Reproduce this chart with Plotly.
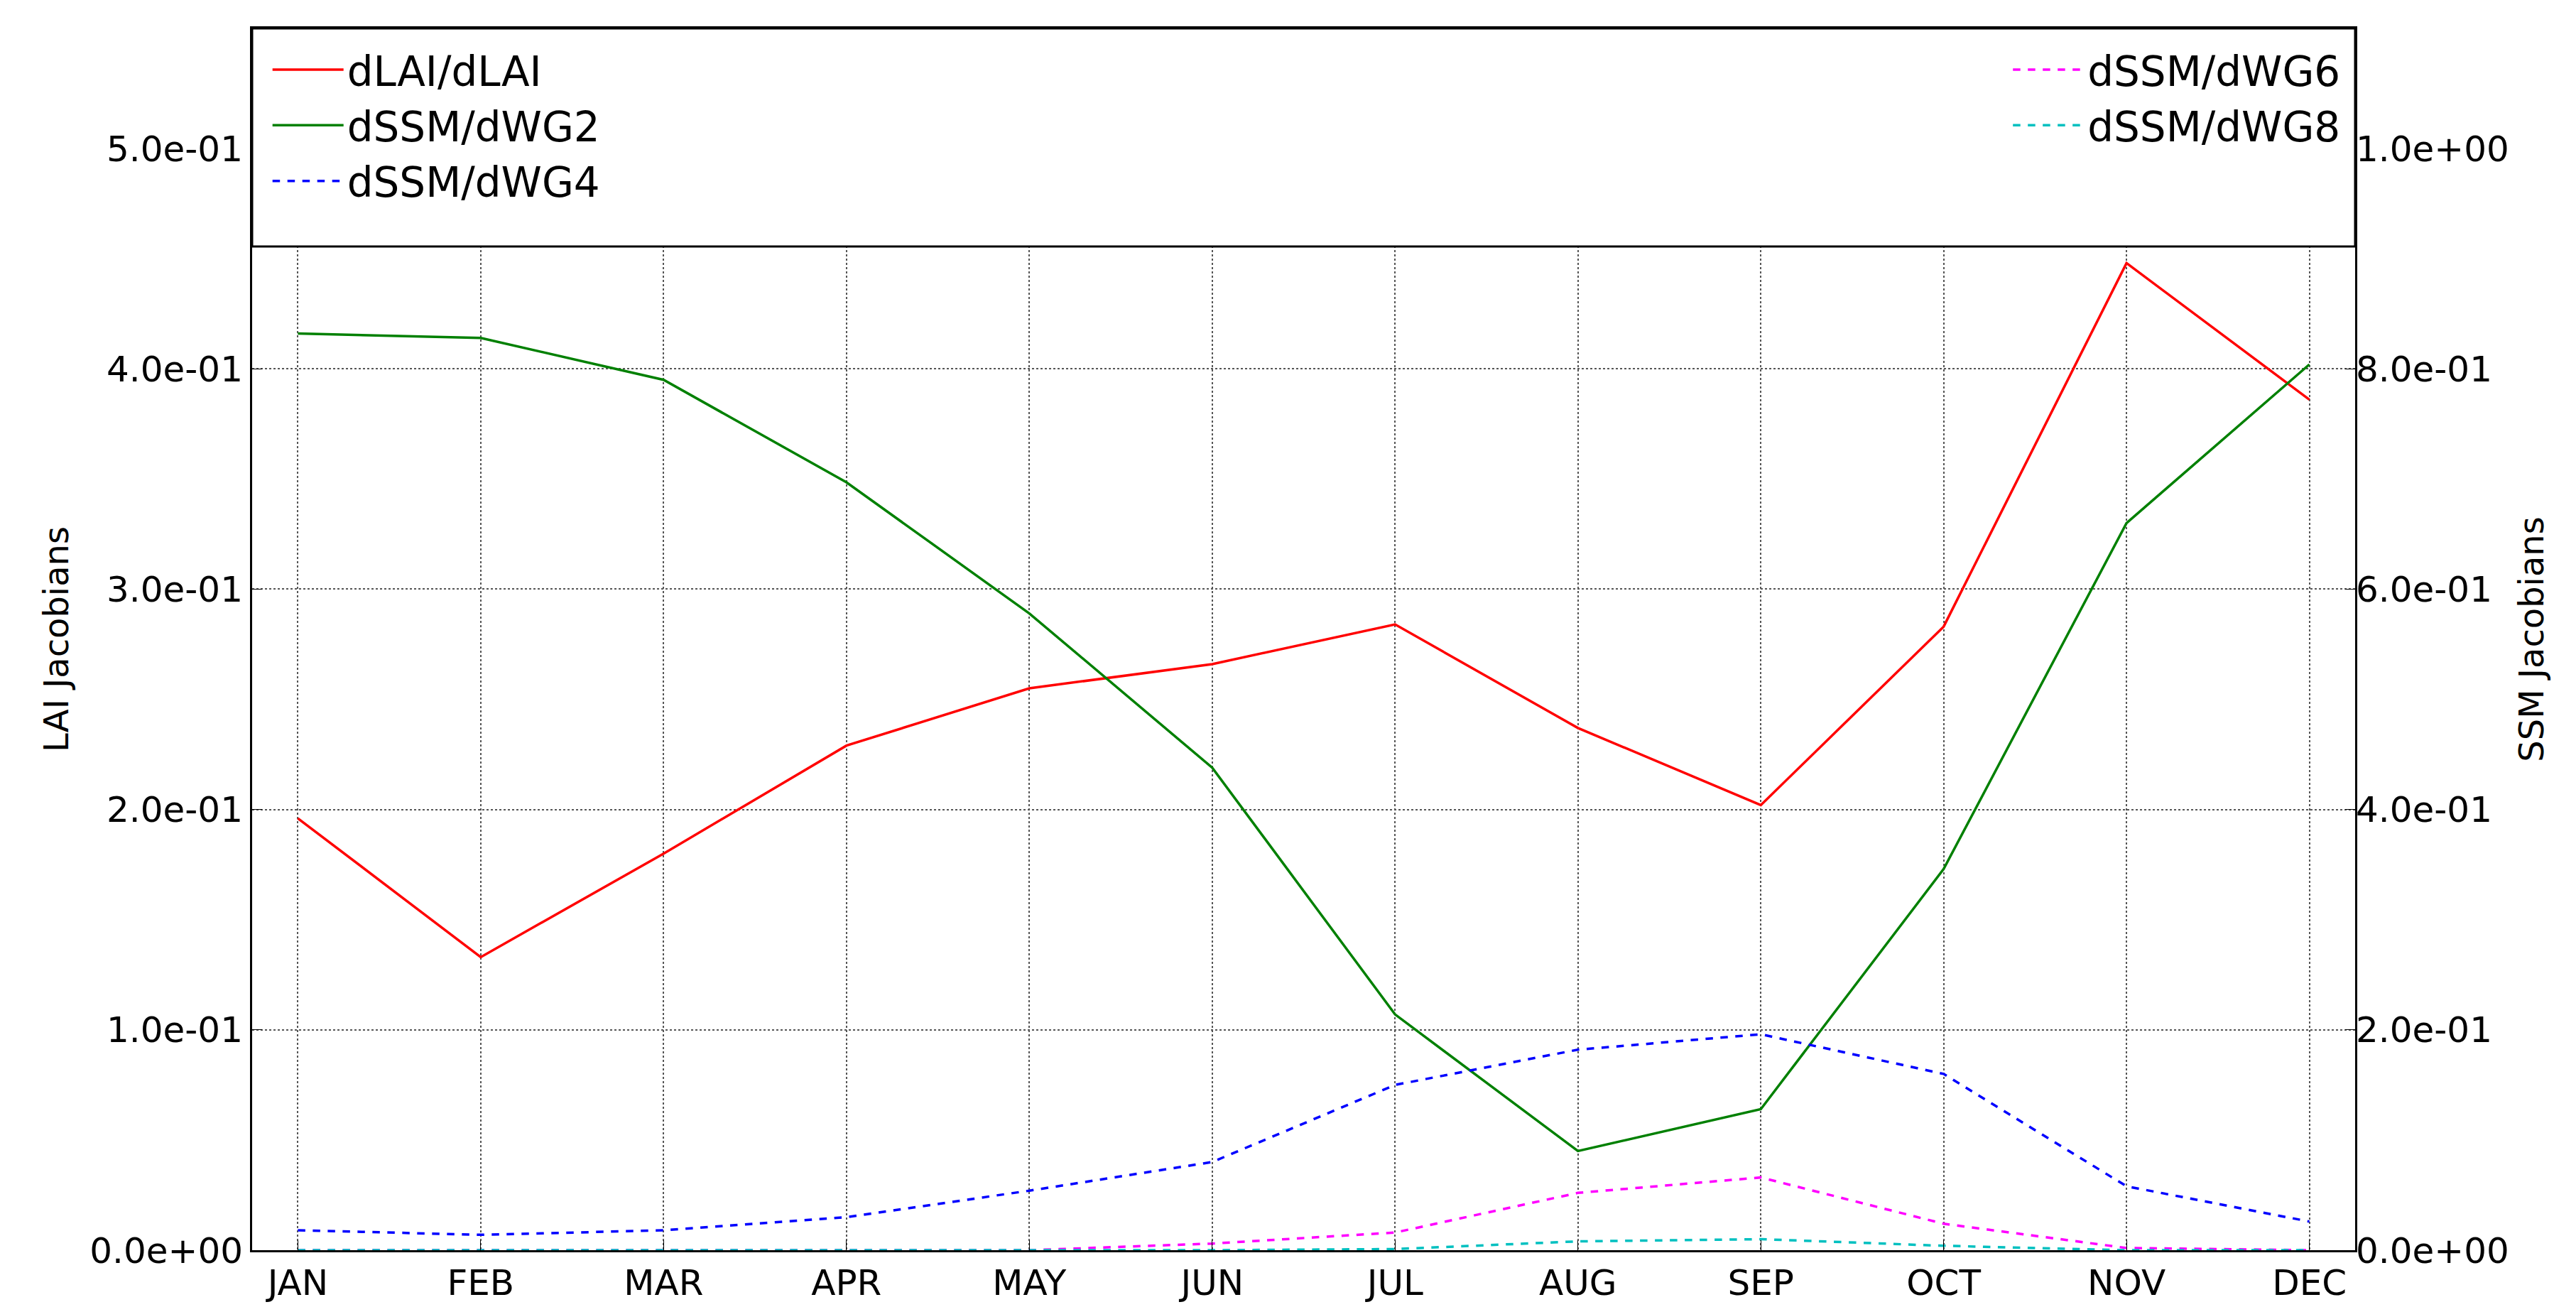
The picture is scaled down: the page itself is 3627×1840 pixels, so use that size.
import plotly.graph_objects as go

months = ["JAN", "FEB", "MAR", "APR", "MAY", "JUN", "JUL", "AUG", "SEP", "OCT", "NOV", "DEC"]
dlai = [0.196, 0.133, 0.180, 0.229, 0.255, 0.266, 0.284, 0.237, 0.202, 0.283, 0.448, 0.386]
dwg2 = [0.832, 0.828, 0.790, 0.697, 0.578, 0.438, 0.214, 0.090, 0.128, 0.346, 0.660, 0.804]
dwg4 = [0.018, 0.014, 0.018, 0.030, 0.054, 0.080, 0.150, 0.182, 0.196, 0.160, 0.058, 0.026]
dwg6 = [0.0, 0.0, 0.0, 0.0, 0.0, 0.006, 0.016, 0.052, 0.066, 0.024, 0.002, 0.0]
dwg8 = [0.0, 0.0, 0.0, 0.0, 0.0, 0.0, 0.001, 0.008, 0.010, 0.004, 0.0, 0.0]

left_ticks = [0.0, 0.1, 0.2, 0.3, 0.4, 0.5]
right_ticks = [0.0, 0.2, 0.4, 0.6, 0.8, 1.0]
x = list(range(12))

fig = go.Figure()
fig.add_trace(go.Scatter(x=x, y=dlai, name="dLAI/dLAI", mode="lines",
                         line=dict(color="red", width=3.5), legend="legend"))
fig.add_trace(go.Scatter(x=x, y=dwg2, name="dSSM/dWG2", mode="lines", yaxis="y2",
                         line=dict(color="green", width=3.5), legend="legend"))
fig.add_trace(go.Scatter(x=x, y=dwg4, name="dSSM/dWG4", mode="lines", yaxis="y2",
                         line=dict(color="blue", width=3.5, dash="dash"), legend="legend"))
fig.add_trace(go.Scatter(x=x, y=dwg6, name="dSSM/dWG6", mode="lines", yaxis="y2",
                         line=dict(color="magenta", width=3.5, dash="dash"), legend="legend2"))
fig.add_trace(go.Scatter(x=x, y=dwg8, name="dSSM/dWG8", mode="lines", yaxis="y2",
                         line=dict(color="#00c0c0", width=3.5, dash="dash"), legend="legend2"))

top = 0.5545
fig.add_shape(type="rect", xref="paper", yref="y", x0=0, x1=1, y0=0.4555, y1=top,
              fillcolor="white", line=dict(color="black", width=3), layer="above")

font = dict(family="DejaVu Sans", size=50, color="black")
grid = dict(showgrid=True, gridcolor="#555555", griddash="dot", gridwidth=1.5, zeroline=False,
            showline=True, linecolor="black", linewidth=3, mirror=True,
            ticks="inside", ticklen=14, tickcolor="black")
fig.update_layout(
    width=3627, height=1840,
    margin=dict(l=347, r=319, t=32, b=88),
    paper_bgcolor="white", plot_bgcolor="white",
    font=font,
    showlegend=True,
    legend=dict(x=0.008, y=0.992, xanchor="left", yanchor="top", bgcolor="rgba(0,0,0,0)",
                font=dict(family="DejaVu Sans", size=58), itemwidth=100),
    legend2=dict(x=0.995, y=0.992, xanchor="right", yanchor="top", bgcolor="rgba(0,0,0,0)",
                 font=dict(family="DejaVu Sans", size=58), itemwidth=100),
    xaxis=dict(range=[-0.25, 11.25], tickvals=x, ticktext=months, **grid),
    yaxis=dict(range=[0, top], tickvals=left_ticks, ticktext=[f"{v:.1e}" for v in left_ticks],
               title=dict(text="LAI Jacobians", font=dict(size=48)), **grid),
    yaxis2=dict(range=[0, top * 2], tickvals=right_ticks, ticktext=[f"{v:.1e}" for v in right_ticks],
                title=dict(text="SSM Jacobians", font=dict(size=48)), overlaying="y", side="right",
                showgrid=False, zeroline=False, ticks="inside", ticklen=14, tickcolor="black"),
)
fig.write_html("out.html")
